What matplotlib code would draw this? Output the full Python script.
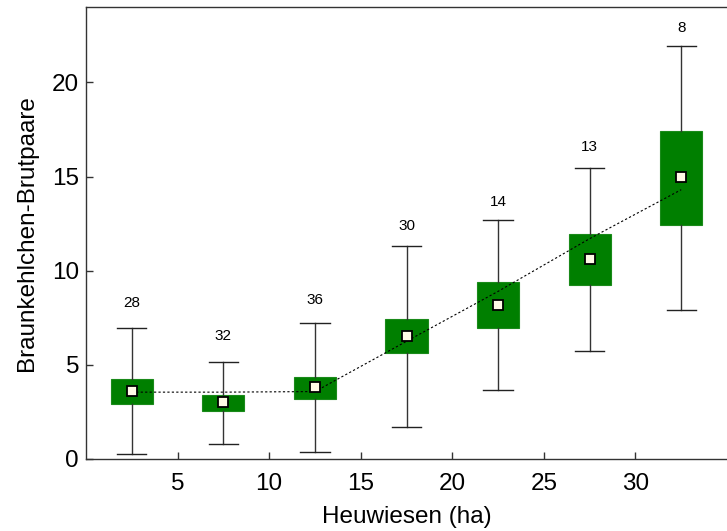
import matplotlib
matplotlib.use("Agg")
import matplotlib.pyplot as plt

plt.rcParams['font.family'] = ['Liberation Sans', 'DejaVu Sans']

# class centres of meadow area (ha)
positions = [2.5, 7.5, 12.5, 17.5, 22.5, 27.5, 32.5]
whisker_low = [0.25, 0.82, 0.36, 1.72, 3.67, 5.76, 7.93]
box_low = [2.94, 2.57, 3.21, 5.64, 6.95, 9.26, 12.45]
means = [3.62, 3.00, 3.81, 6.54, 8.19, 10.64, 14.95]
box_high = [4.26, 3.39, 4.36, 7.41, 9.38, 11.97, 17.43]
whisker_high = [6.97, 5.16, 7.22, 11.33, 12.68, 15.46, 21.93]
counts = ["28", "32", "36", "30", "14", "13", "8"]
count_y = [8.3, 6.55, 8.45, 12.35, 13.65, 16.55, 22.9]

# trend line through the classes
trend_x = [2.5, 7.5, 12.5, 17.5, 22.5, 27.5, 32.5]
trend_y = [3.55, 3.55, 3.58, 6.25, 8.9, 11.7, 14.3]

stats = []
for i in range(len(positions)):
    stats.append({
        'whislo': whisker_low[i], 'q1': box_low[i], 'med': means[i],
        'q3': box_high[i], 'whishi': whisker_high[i], 'mean': means[i],
        'fliers': [],
    })

fig = plt.figure(figsize=(7.27, 5.31), dpi=100)
ax = fig.add_axes([0.1183, 0.1356, 0.8817, 0.8512])

ax.plot(trend_x, trend_y, color='black', linestyle=(0, (2, 2)), linewidth=0.8, zorder=4)

ax.bxp(stats, positions=positions, widths=2.3, capwidths=1.6, patch_artist=True,
       showmeans=True, manage_ticks=False,
       boxprops=dict(facecolor='#007f00', edgecolor='#1a8a1a', linewidth=0.8),
       whiskerprops=dict(color='#333333', linewidth=1.0),
       capprops=dict(color='#222222', linewidth=1.0),
       medianprops=dict(linewidth=0),
       meanprops=dict(marker='s', markerfacecolor='#fffbe6', markeredgecolor='black',
                      markersize=7.5, markeredgewidth=1.3, zorder=5))

for x, y, c in zip(positions, count_y, counts):
    ax.text(x, y, c, ha='center', va='center', fontsize=11)

ax.set_xlim(0, 35)
ax.set_ylim(0, 24)
ax.set_xticks([5, 10, 15, 20, 25, 30])
ax.set_yticks([0, 5, 10, 15, 20])
ax.tick_params(direction='in', length=5, labelsize=17.5, width=1, color='#333333')
ax.tick_params(axis='x', pad=10)
ax.tick_params(axis='y', pad=5)
ax.set_xlabel('Heuwiesen (ha)', fontsize=17.5, labelpad=8)
ax.set_ylabel('Braunkehlchen-Brutpaare', fontsize=17.5, labelpad=10)
ax.spines['right'].set_visible(False)
for s in ['top', 'left', 'bottom']:
    ax.spines[s].set_color('#333333')
    ax.spines[s].set_linewidth(1.0)

plt.savefig('out.png', dpi=100)
plt.close()
